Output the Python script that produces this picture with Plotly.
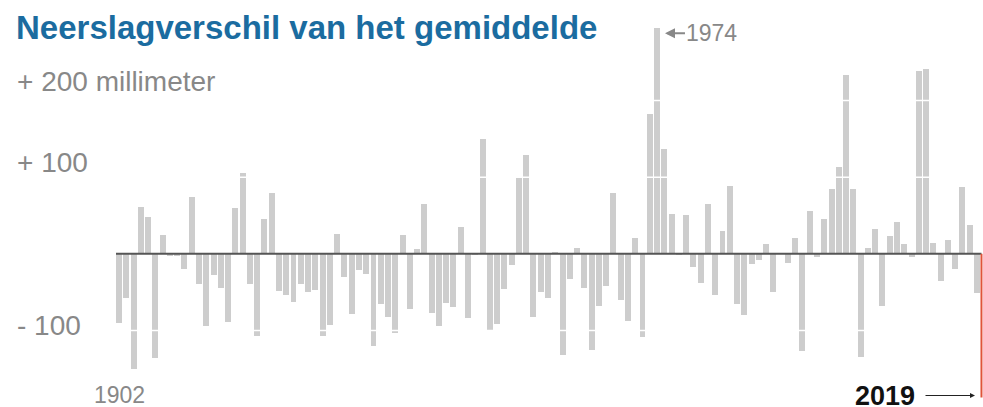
import plotly.graph_objects as go

# ---- data ----
years = list(range(1900, 2019))
values = [
    -90.6, -58, -151, 61.4, 48.4, -136, 24.8, -3.5, -3.5, -20,
    74.5, -40, -94.6, -28.3, -44.9, -89.3, 59.3, 105.4, -40, -107.6,
    44.9, 78.9, -49.2, -53.2, -62.3, -40, -50.5, -47.9, -107.6, -92.8,
    25.7, -30, -78, -20.9, -27, -121, -65, -83, -104, 24.8,
    -72, 6.5, 65, -76.7, -94, -64, -69, 35.3, -83.7, -1,
    149.9, -100.7, -91.5, -45.8, -14.4, 99.3, 129.4, -82.4, -49.7, -57.3,
    1.7, -132.5, -33.5, 7.4, -45.3, -125, -68, -41.8, 79.3, -59.7,
    -87.6, 20.9, -108.5, 182.6, 294.6, 136.8, 52.3, -1, 50.5, -17,
    -37.9, 65.4, -54, 30, 88.5, -65.4, -79.7, -13, -7.8, 12.6,
    -50, 0, -12.2, 20.5, -126.5, 55.3, -4.4, 44.9, 84, 112.9,
    233, 84, -134.6, 7, 31.8, -68.4, 23.1, 41, 12.6, -4.8,
    238.3, 241.8, 14, -35.7, 17.9, -20, 87, 37.9, -51,
]
grid_values = [-100, 100, 200]
peak_label = "1974"
peak_year = 1974
current_year = 2019
first_label = "1902"
title_text = "Neerslagverschil van het gemiddelde"
label_200 = "+ 200 millimeter"
label_100 = "+ 100"
label_m100 = "- 100"

W, H = 983, 407
XR = [1883.634, 2018.83]
YR = [-200.0, 331.3]

FONT = "Liberation Sans, Arial, sans-serif"
GRAY = "#888888"

def px_x(sx):
    return sx / W

def px_y(sy):
    return 1 - sy / H

fig = go.Figure()
fig.add_trace(go.Bar(
    x=years, y=values, width=0.82,
    marker=dict(color="#cdcdcd", line=dict(width=0)),
    hoverinfo="x+y",
))

shapes = []
for g in grid_values:
    shapes.append(dict(type="line", xref="paper", yref="y", x0=0, x1=1, y0=g, y1=g,
                       line=dict(color="white", width=1.5), layer="above"))
shapes.append(dict(type="line", xref="x", yref="y", x0=years[0] - 0.41, x1=current_year - 0.38,
                   y0=0, y1=0, line=dict(color="#555555", width=2), layer="above"))
shapes.append(dict(type="line", xref="x", yref="paper", x0=current_year - 0.38, x1=current_year - 0.38,
                   y0=px_y(253.8), y1=px_y(397.5), line=dict(color="#e0533a", width=2),
                   layer="above"))

peak_val = values[years.index(peak_year)]
annotations = [
    dict(text="<b>%s</b>" % title_text, xref="paper", yref="paper", x=px_x(14), y=px_y(27.5),
         xanchor="left", yanchor="middle", showarrow=False,
         font=dict(family=FONT, size=33, color="#1b6ca0")),
    dict(text=label_200, xref="paper", yref="paper", x=px_x(14.5), y=px_y(81.7),
         xanchor="left", yanchor="middle", showarrow=False,
         font=dict(family=FONT, size=28, color=GRAY)),
    dict(text=label_100, xref="paper", yref="paper", x=px_x(14.5), y=px_y(162.5),
         xanchor="left", yanchor="middle", showarrow=False,
         font=dict(family=FONT, size=28, color=GRAY)),
    dict(text=label_m100, xref="paper", yref="paper", x=px_x(14.5), y=px_y(325.5),
         xanchor="left", yanchor="middle", showarrow=False,
         font=dict(family=FONT, size=28, color=GRAY)),
    dict(text=first_label, xref="x", yref="paper", x=years[0], y=px_y(395),
         xanchor="center", yanchor="middle", showarrow=False,
         font=dict(family=FONT, size=23, color=GRAY)),
    dict(text=peak_label, xref="x", yref="y", x=peak_year + 1.09, y=peak_val - 6.7,
         ax=47, ay=0, axref="pixel", ayref="pixel", showarrow=True,
         arrowhead=2, arrowsize=1, arrowwidth=2, arrowcolor=GRAY, standoff=0,
         startstandoff=0,
         font=dict(family=FONT, size=23, color=GRAY)),
    dict(text="<b>%d</b>" % current_year, xref="x", yref="paper", x=current_year - 1.27,
         y=px_y(395.5), ax=-90, ay=0, axref="pixel", ayref="pixel", showarrow=True,
         arrowhead=2, arrowsize=1, arrowwidth=1, arrowcolor="#222222", standoff=0,
         startstandoff=9,
         font=dict(family=FONT, size=27, color="#111111")),
]

fig.update_layout(
    width=W, height=H, autosize=False,
    margin=dict(l=0, r=0, t=0, b=0, pad=0),
    paper_bgcolor="white", plot_bgcolor="white",
    showlegend=False, bargap=0,
    xaxis=dict(range=XR, visible=False, fixedrange=True),
    yaxis=dict(range=YR, visible=False, fixedrange=True),
    shapes=shapes, annotations=annotations,
)

fig.write_html(
    "out.html",
    config={"displayModeBar": False},
    post_script="document.body.style.margin='0';document.body.style.overflow='hidden';",
)
